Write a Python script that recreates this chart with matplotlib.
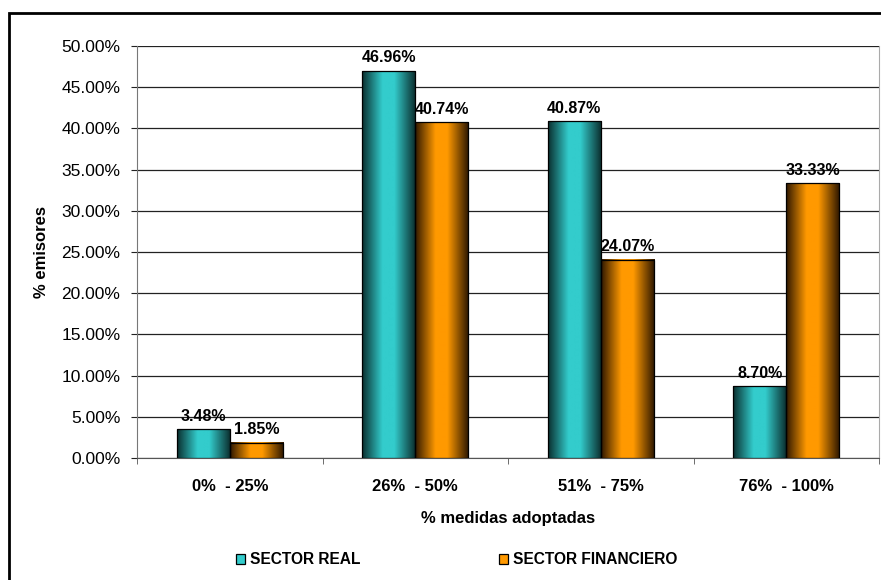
import numpy as np
import matplotlib
matplotlib.use('Agg')
import matplotlib.pyplot as plt
from matplotlib.colors import LinearSegmentedColormap
from matplotlib.patches import Rectangle, Patch
from matplotlib.ticker import FuncFormatter

plt.rcParams['font.family'] = ['Liberation Sans', 'DejaVu Sans']

# data
categories = ['0%  - 25%', '26%  - 50%', '51%  - 75%', '76%  - 100%']
sector_real = [3.48, 46.96, 40.87, 8.70]
sector_financiero = [1.85, 40.74, 24.07, 33.33]
series_names = ['SECTOR REAL', 'SECTOR FINANCIERO']

teal = '#33CCCC'
orange = '#FF9900'

# cylinder-like horizontal shading, dark at the edges
cmap_teal = LinearSegmentedColormap.from_list(
    'teal', [(0, '#0a2e2e'), (0.38, teal), (0.6, teal), (1, '#0a2a2a')])
cmap_orange = LinearSegmentedColormap.from_list(
    'orange', [(0, '#2e1700'), (0.38, orange), (0.6, orange), (1, '#2a1500')])
grad = np.linspace(0, 1, 256).reshape(1, -1)

fig = plt.figure(figsize=(8.81, 5.8), dpi=100)
ax = fig.add_axes([137 / 881, 1 - 458 / 580, 742 / 881, 412 / 580])

x = np.arange(len(categories))
w = 0.286


def gradient_bars(xs, vals, cmap):
    for xc, v in zip(xs, vals):
        ax.imshow(grad, extent=[xc - w / 2, xc + w / 2, 0, v], aspect='auto',
                  cmap=cmap, interpolation='bilinear', zorder=3)
        ax.add_patch(Rectangle((xc - w / 2, 0), w, v, fill=False,
                               edgecolor='black', lw=0.9, zorder=4))
        ax.annotate(f'{v:.2f}%', (xc, v), xytext=(0, 4), textcoords='offset points',
                    ha='center', va='bottom', fontsize=11.5, fontweight='bold', zorder=5)


gradient_bars(x - w / 2, sector_real, cmap_teal)
gradient_bars(x + w / 2, sector_financiero, cmap_orange)

ax.set_xlim(-0.5, 3.5)
ax.set_ylim(0, 50)
ax.set_yticks(np.arange(0, 50.1, 5))
ax.yaxis.set_major_formatter(FuncFormatter(lambda v, p: f'{v:.2f}%'))
ax.grid(axis='y', color='#222222', lw=0.9, zorder=1)

ax.set_xticks(x)
ax.set_xticklabels(categories, fontsize=12, fontweight='bold')
ax.set_xticks(np.arange(-0.5, 3.6, 1), minor=True)
ax.tick_params(axis='x', which='major', length=0, pad=15)
ax.tick_params(axis='x', which='minor', length=4, color='#555555')
ax.tick_params(axis='y', length=4, pad=8, labelsize=12.5, color='#222222')

ax.spines['top'].set_visible(False)
ax.spines['left'].set_color('#777777')
ax.spines['right'].set_color('#aaaaaa')
ax.spines['bottom'].set_color('#555555')

ax.set_xlabel('% medidas adoptadas', fontsize=12, fontweight='bold', labelpad=12)
ax.set_ylabel('% emisores', fontsize=12, fontweight='bold', labelpad=9)

handles = [Patch(facecolor=teal, edgecolor='black', lw=0.9),
           Patch(facecolor=orange, edgecolor='black', lw=0.9)]
fig.legend(handles, series_names, loc='center', bbox_to_anchor=(0.518, 0.0345),
           ncol=2, frameon=False, prop={'size': 11.2, 'weight': 'bold'},
           handlelength=0.6, handleheight=0.6, handletextpad=0.3, columnspacing=8.9)

# outer chart border (right and bottom sides fall outside the picture)
fig.patches.append(Rectangle((9 / 881, -0.05), 1.1, 1 - 13 / 580 + 0.05,
                             transform=fig.transFigure, fill=False,
                             edgecolor='black', lw=2, zorder=10))

fig.savefig('out.png', dpi=100)
